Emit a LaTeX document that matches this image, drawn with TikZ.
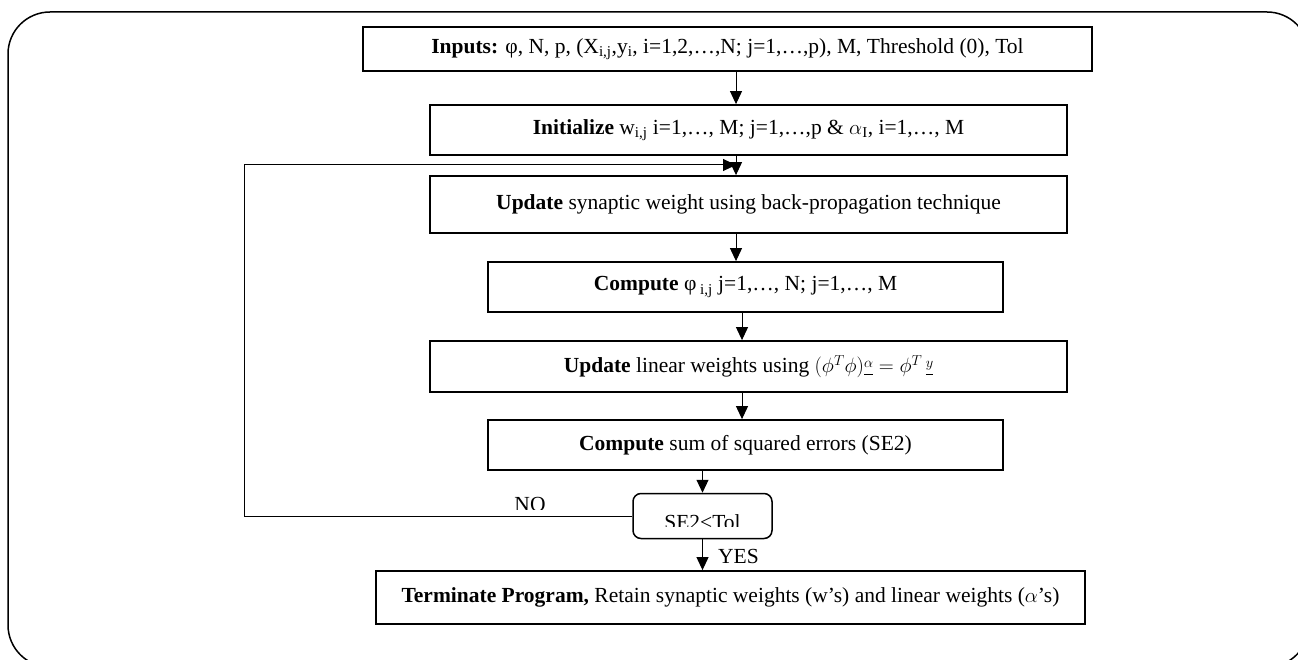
\documentclass[tikz,border=0pt]{standalone}
\usepackage{fontspec}
\setmainfont{Liberation Serif}
\usetikzlibrary{arrows.meta}
\newcommand{\ulsup}[1]{\underline{\raisebox{0.55ex}{$\scriptstyle #1$}}}
\begin{document}
\begin{tikzpicture}[x=1pt,y=-1pt,
  font=\fontsize{21.5}{25}\selectfont,
  box/.style={draw, line width=1.8pt, inner sep=0pt, align=center},
  arr/.style={line width=1pt, -{Triangle[length=13pt,width=12pt]}},
  lbl/.style={inner sep=0pt, anchor=base}]
\useasboundingbox (0,0) rectangle (1298,660);
\begin{scope}
  \clip (0,0) rectangle (1298,660);
  \draw[line width=1.5pt, rounded corners=42pt] (8,12) rectangle (1309,667);
\end{scope}
% boxes
\node[box, line width=1.5pt, minimum width=729pt, minimum height=44pt] (inp) at (727.5,49)
  {\textbf{Inputs:} φ, N, p, (X\textsubscript{i,j},y\textsubscript{i}, i=1,2,…,N; j=1,…,p), M, Threshold (0), Tol};
\node[box, minimum width=637pt, minimum height=50pt] (init) at (748.5,130)
  {\textbf{Initialize} w\textsubscript{i,j} i=1,…, M; j=1,…,p \& $\alpha$\textsubscript{I}, i=1,…, M};
\node[box, minimum width=637pt, minimum height=57pt] (upd) at (748.5,204.5)
  {\textbf{Update} synaptic weight using back-propagation technique};
\node[box, minimum width=515pt, minimum height=50pt] (comp) at (745.5,287)
  {\textbf{Compute} φ\textsubscript{ i,j} j=1,…, N; j=1,…, M};
\node[box, minimum width=637pt, minimum height=51pt] (upd2) at (748.5,366.5)
  {\textbf{Update} linear weights using $(\phi^T\phi)\ulsup{\alpha} = \phi^T\,\ulsup{y}$};
\node[box, minimum width=515pt, minimum height=50pt] (comp2) at (745.5,445)
  {\textbf{Compute} sum of squared errors (SE2)};
\node[draw, line width=1.5pt, rounded corners=8pt, minimum width=139pt, minimum height=45pt] (dec) at (702.5,516) {};
\node[box, minimum width=709pt, minimum height=53pt] (term) at (730.5,597.5)
  {\textbf{Terminate Program,} Retain synaptic weights (w’s) and linear weights ($\alpha$’s)};
% clipped labels
\begin{scope}
  \clip (0,0) rectangle (1298,526);
  \node[lbl] (dectext) at (702.5,529) {SE2<Tol};
\end{scope}
\begin{scope}
  \clip (0,0) rectangle (1298,509);
  \node[lbl] (no) at (530,511) {NO};
\end{scope}
% connectors
\coordinate (ax) at (736,0);
\coordinate (bx) at (742,0);
\draw[arr] (inp.south -| ax) -- (init.north -| ax);
\draw[arr] (init.south -| ax) -- (upd.north -| ax);
\draw[arr] (upd.south -| ax) -- (comp.north -| ax);
\draw[arr] (comp.south -| bx) -- (upd2.north -| bx);
\draw[arr] (upd2.south -| bx) -- (comp2.north -| bx);
\draw[arr] (comp2.south -| dec) -- (dec.north);
\draw[arr] (dec.south) -- (term.north -| dec);
\node[lbl, anchor=base west] (yes) at (718,563) {YES};
\coordinate (lt) at (244,165);
\coordinate (le) at (736,165);
\draw[arr] (dec.west) -| (lt) -- (le);
\end{tikzpicture}
\end{document}
